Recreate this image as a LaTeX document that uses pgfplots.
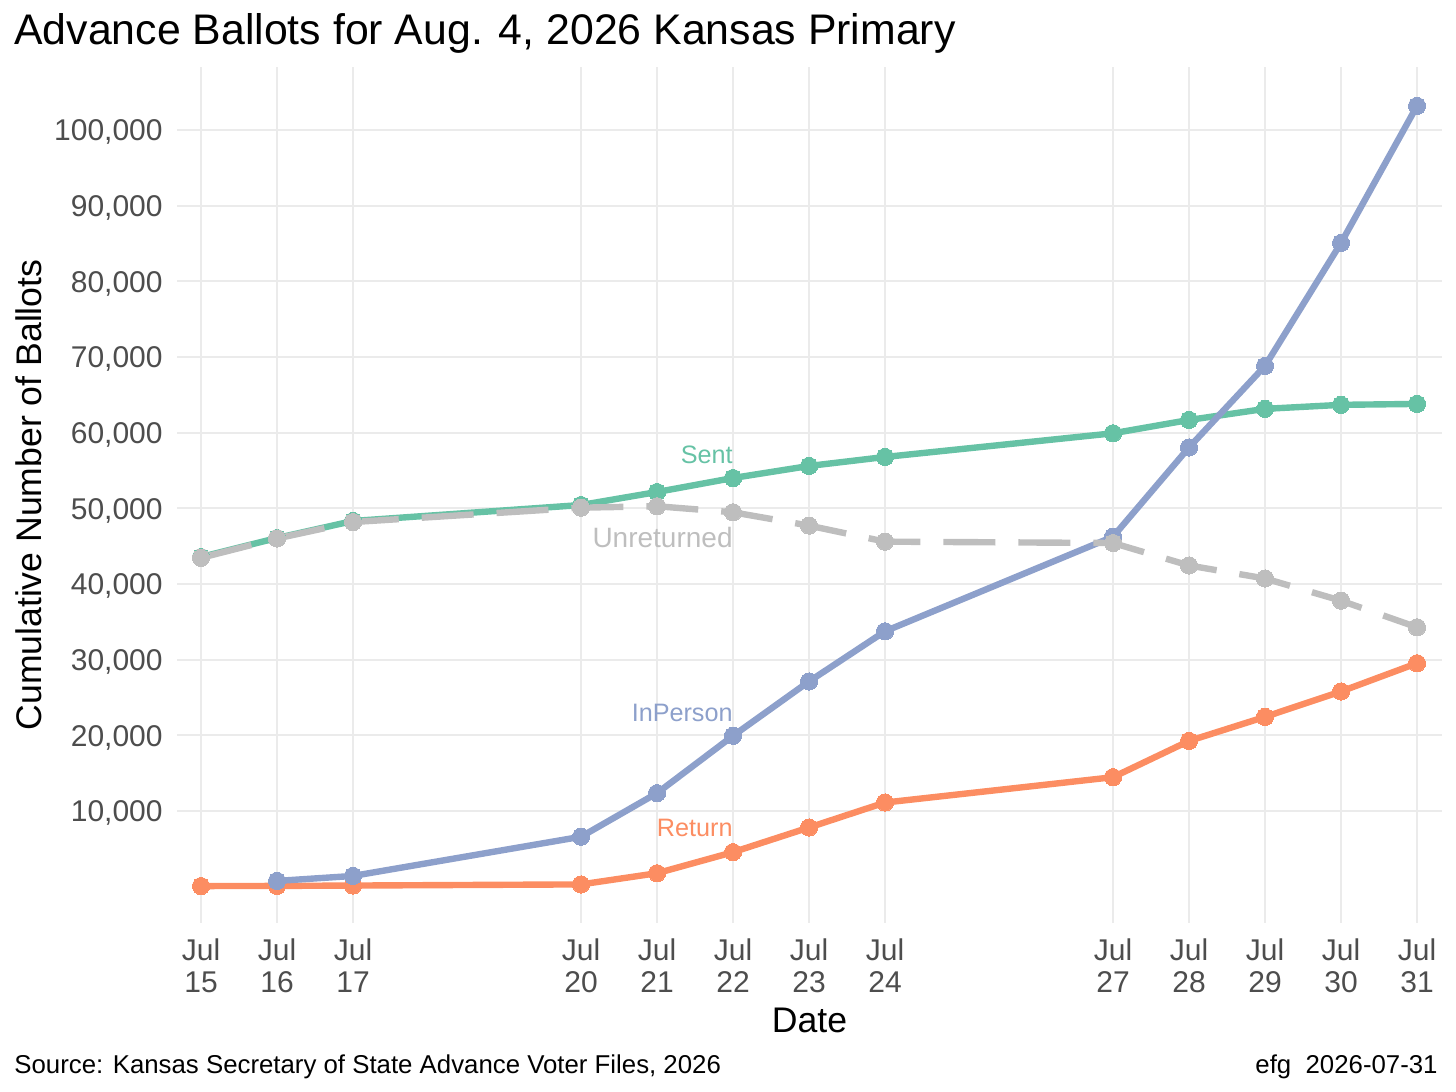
\documentclass[border=0pt]{standalone}
\usepackage{fontspec}
\setmainfont{Liberation Sans}
\usepackage{pgfplots}
\pgfplotsset{compat=1.18}
\definecolor{csent}{HTML}{66C2A5}
\definecolor{cret}{HTML}{FC8D62}
\definecolor{cinp}{HTML}{8DA0CB}
\definecolor{cunr}{HTML}{BEBEBE}
\definecolor{cgrid}{HTML}{EBEBEB}
\definecolor{ctick}{HTML}{4D4D4D}
\newcommand{\jl}[1]{\begin{tabular}[t]{@{}c@{}}Jul\\#1\end{tabular}}
\begin{document}
\begin{tikzpicture}
\useasboundingbox (-88.5bp,-84.5bp) rectangle (639.5bp,461.5bp);
\begin{axis}[
  at={(0,0)}, anchor=south west,
  scale only axis, width=632.5bp, height=428bp,
  xmin=14.684, xmax=31.329, ymin=-4800, ymax=108330,
  clip=false,
  scaled y ticks=false, scaled x ticks=false,
  axis line style={draw=none},
  major tick length=0pt,
  xmajorgrids, ymajorgrids,
  grid style={draw=cgrid, line width=1bp},
  xtick={15,16,17,20,21,22,23,24,27,28,29,30,31},
  xticklabels={\jl{15},\jl{16},\jl{17},\jl{20},\jl{21},\jl{22},\jl{23},\jl{24},\jl{27},\jl{28},\jl{29},\jl{30},\jl{31}},
  xticklabel style={anchor=base, inner sep=0pt, yshift=-18.8bp, font=\fontsize{15bp}{16bp}\selectfont, text=ctick},
  ytick={10000,20000,30000,40000,50000,60000,70000,80000,90000,100000},
  yticklabels={{10,000},{20,000},{30,000},{40,000},{50,000},{60,000},{70,000},{80,000},{90,000},{100,000}},
  yticklabel style={anchor=base east, inner sep=0pt, xshift=-7bp, yshift=-5.4bp, font=\fontsize{15bp}{18bp}\selectfont, text=ctick},
  every axis plot/.append style={line width=3.2bp, mark=*, mark size=4.3bp},
]
\addplot[csent, mark options={solid, line width=0pt, fill=csent}] coordinates {
 (15,43570) (16,46080) (17,48330) (20,50440) (21,52160) (22,54010) (23,55600) (24,56790) (27,59920) (28,61680) (29,63150) (30,63680) (31,63800)};
\addplot[cret, mark options={solid, line width=0pt, fill=cret}] coordinates {
 (15,80) (16,100) (17,150) (20,300) (21,1780) (22,4560) (23,7820) (24,11120) (27,14470) (28,19260) (29,22440) (30,25800) (31,29530)};
\addplot[cinp, mark options={solid, line width=0pt, fill=cinp}] coordinates {
 (16,760) (17,1420) (20,6600) (21,12360) (22,19940) (23,27120) (24,33750) (27,46250) (28,58050) (29,68820) (30,85070) (31,103180)};
\addplot[cunr, dash pattern=on 26bp off 11.5bp, mark options={solid, line width=0pt, fill=cunr}] coordinates {
 (15,43460) (16,46020) (17,48190) (20,50090) (21,50280) (22,49480) (23,47720) (24,45600) (27,45420) (28,42450) (29,40730) (30,37800) (31,34280)};
\node[anchor=base east, inner sep=0pt, text=csent, font=\fontsize{12.6bp}{15bp}\selectfont] at (axis cs:22,55990) {Sent};
\node[anchor=base east, inner sep=0pt, text=cunr, font=\fontsize{14bp}{16bp}\selectfont] at (axis cs:22,44890) {Unreturned};
\node[anchor=base east, inner sep=0pt, text=cinp, font=\fontsize{12.6bp}{15bp}\selectfont] at (axis cs:22,21770) {InPerson};
\node[anchor=base east, inner sep=0pt, text=cret, font=\fontsize{12.6bp}{15bp}\selectfont] at (axis cs:22,6570) {Return};
\end{axis}
\node[anchor=base west, inner sep=0pt, font=\fontsize{21.4bp}{25bp}\selectfont] at (-81.5bp,439bp) {Advance Ballots for Aug. 4, 2026 Kansas Primary};
\node[anchor=base, inner sep=0pt, rotate=90, font=\fontsize{17.8bp}{21bp}\selectfont] at (-67.5bp,214bp) {Cumulative Number of Ballots};
\node[anchor=base, inner sep=0pt, font=\fontsize{17.8bp}{21bp}\selectfont] at (316.25bp,-54.5bp) {Date};
\node[anchor=base west, inner sep=0pt, font=\fontsize{12.9bp}{15bp}\selectfont] at (-81.5bp,-75bp) {Source: Kansas Secretary of State Advance Voter Files, 2026};
\node[anchor=base east, inner sep=0pt, font=\fontsize{12.9bp}{15bp}\selectfont] at (630.5bp,-75bp) {efg~~2026-07-31};
\end{tikzpicture}
\end{document}
